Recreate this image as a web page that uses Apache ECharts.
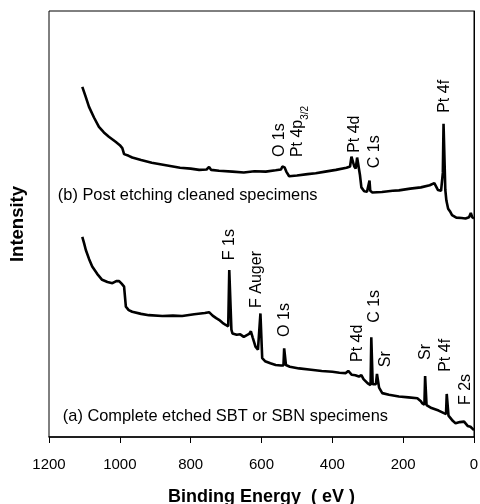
<!DOCTYPE html>
<html>
<head>
<meta charset="utf-8">
<script src="https://cdn.jsdelivr.net/npm/echarts@6/dist/echarts.min.js"></script>
<style>
html,body{margin:0;padding:0;background:#fff;}
#chart{width:480px;height:504px;}
</style>
</head>
<body>
<div id="chart"></div>
<script>
// x ticks
var xTicks = [1200, 1000, 800, 600, 400, 200, 0];

// (b) post etching cleaned, binding energy (eV) / intensity (a.u.)
var energyB = [1106,1097,1087,1073,1059,1045,1031,1012,1000,993,988,975,965,940,910,870,830,800,776,755,748,742,720,682,650,620,588,560,545,541,535,530,522,500,470,447,420,390,360,350,346,342,338,334,330,326,322,318,310,302,298,295,293,287,260,230,212,180,150,125,112,102,93,88,86,83,81,78,73,68,62,50,35,24,14,9,5,0];
var intensB = [82.2,80,77.5,75,72.8,71.5,70.5,69.3,68.5,67.8,66.4,66.0,65.6,65.0,64.4,63.8,63.2,63.0,62.7,62.8,63.4,62.7,62.5,62.3,62.1,62.4,62.3,62.6,62.8,63.5,63.3,62.3,61.2,61.4,61.7,61.9,62.3,62.7,63.2,63.5,65.8,66.0,63.5,63.0,65.6,65.6,61.5,58.6,57.7,57.6,57.8,60.2,57.8,57.4,57.5,57.8,57.9,58.3,58.6,59.1,59.6,58.0,57.8,62,73.5,73.4,58,55.5,53.6,53.0,52.1,51.5,51.4,51.3,51.6,52.6,51.6,51.3];

// (a) complete etched SBT / SBN
var energyA = [1106,1101,1096,1087,1078,1064,1050,1035,1021,1010,1002,995,988,985,983,975,965,940,918,880,850,824,790,760,748,738,728,720,710,701,694,691,688,685,682,670,660,650,645,635,630,625,617,610,605,603,600,598,590,575,560,545,538,536,534,531,520,494,460,430,400,380,362,355,345,335,325,318,312,300,292,290,288,286,282,277,274,272,268,259,240,212,185,160,150,146,140,138,136,134,120,100,85,79,77,74,72,71,60,52,40,28,18,10,0];
var intensA = [47.0,45.5,43.9,41.8,40.0,38.3,36.9,36.4,36.1,36.6,36.6,36.0,35.3,32.5,30.6,29.8,29.4,28.9,28.6,28.4,28.5,28.4,28.8,29.1,29.3,28.5,27.9,27.5,26.8,26.3,26.0,39.2,38.8,25.2,24.3,24.0,24.1,23.5,23.6,24.2,24.8,23.4,21.2,20.5,20.4,29.0,28.8,18.5,17.8,17.3,16.9,16.8,16.8,20.8,20.5,16.9,16.5,16.1,15.8,15.5,15.3,15.1,15.0,15.5,14.6,14.5,14.2,14.5,13.6,12.6,12.2,23.4,23.2,12.4,12.2,12.4,14.8,14.6,11.6,10.3,9.9,9.5,9.3,9.1,8.4,7.9,7.6,14.3,14.2,7.5,6.8,6.2,5.6,5.4,10.1,10.0,5.0,4.8,3.8,3.2,3.5,3.6,2.6,2.4,1.6];

// peak labels: text, energy, intensity at label foot
var peakTextB = ['O 1s', '{n|Pt 4p}{s|3/2}', 'Pt 4d', 'C 1s', 'Pt 4f'];
var peakPosB = [[548, 65.7], [497, 65.7], [336, 66.7], [280, 63.1], [82, 76.1]];
var peakTextA = ['F 1s', 'F Auger', 'O 1s', 'Pt 4d', 'C 1s', 'Sr', 'Sr', 'Pt 4f', 'F 2s'];
var peakPosA = [[689, 41.5], [613, 30.3], [534, 23.5], [330, 17.6], [282, 26.8], [251, 16.4], [136, 18.1], [79, 15.3], [23, 7.5]];

var nameB = '(b) Post etching cleaned specimens';
var nameA = '(a) Complete etched SBT or SBN specimens';
var namePosB = [1175, 56.6];
var namePosA = [1161, 4.9];

var font = 'Liberation Sans, Arial, sans-serif';

function pairs(xs, ys){
    return xs.map(function(x, i){ return [x, ys[i]]; });
}

function marks(texts, pos, title, titlePos){
    var items = texts.map(function(t, i){
        return {
            coord: pos[i],
            label: {
                formatter: t,
                rotate: 90,
                position: [0, 0],
                align: 'left',
                verticalAlign: 'middle'
            }
        };
    });
    items.push({
        coord: titlePos,
        label: {formatter: title, rotate: 0, position: [0, 0], align: 'left', verticalAlign: 'middle', fontSize: 16.4}
    });
    return {
        symbol: 'circle',
        symbolSize: 0,
        silent: true,
        label: {
            show: true,
            color: '#000',
            fontFamily: font,
            fontSize: 16,
            rich: {
                n: {fontSize: 16, fontFamily: font, color: '#000', lineHeight: 24, verticalAlign: 'middle'},
                s: {fontSize: 10, fontFamily: font, color: '#000', lineHeight: 24, verticalAlign: 'bottom'}
            }
        },
        data: items
    };
}

var myChart = echarts.init(document.getElementById('chart'));

var option = {
    animation: false,
    backgroundColor: '#fff',
    grid: {left: 49, right: 6, top: 11, bottom: 67, outerBoundsMode: 'none', containLabel: false, show: true, borderColor: '#000', borderWidth: 1},
    xAxis: {
        type: 'value',
        inverse: true,
        min: 0,
        max: 1200,
        interval: 200,
        name: 'Binding Energy  ( eV )',
        nameLocation: 'middle',
        nameGap: 51,
        nameTextStyle: {fontFamily: font, fontSize: 18, fontWeight: 'bold', color: '#000'},
        axisLine: {show: true, lineStyle: {color: '#000', width: 1.5}},
        axisTick: {show: true, inside: false, length: 6, lineStyle: {color: '#000'}},
        axisLabel: {
            margin: 20,
            fontFamily: font,
            fontSize: 15,
            color: '#000',
            formatter: function(v){ return xTicks.indexOf(v) >= 0 ? String(v) : ''; }
        },
        splitLine: {show: false}
    },
    yAxis: {
        type: 'value',
        min: 0,
        max: 100,
        name: 'Intensity',
        nameLocation: 'middle',
        nameRotate: 90,
        nameGap: 22,
        nameTextStyle: {fontFamily: font, fontSize: 18.5, fontWeight: 'bold', color: '#000'},
        axisLine: {show: true, lineStyle: {color: '#000', width: 1}},
        axisTick: {show: false},
        axisLabel: {show: false},
        splitLine: {show: false}
    },
    series: [
        {
            name: 'b',
            type: 'line',
            data: pairs(energyB, intensB),
            showSymbol: false,
            lineStyle: {color: '#000', width: 2.6},
            markPoint: marks(peakTextB, peakPosB, nameB, namePosB)
        },
        {
            name: 'a',
            type: 'line',
            data: pairs(energyA, intensA),
            showSymbol: false,
            lineStyle: {color: '#000', width: 2.6},
            markPoint: marks(peakTextA, peakPosA, nameA, namePosA)
        }
    ]
};

myChart.setOption(option);
window.addEventListener('resize', function(){
    myChart.resize();
});
</script>
</body>
</html>
